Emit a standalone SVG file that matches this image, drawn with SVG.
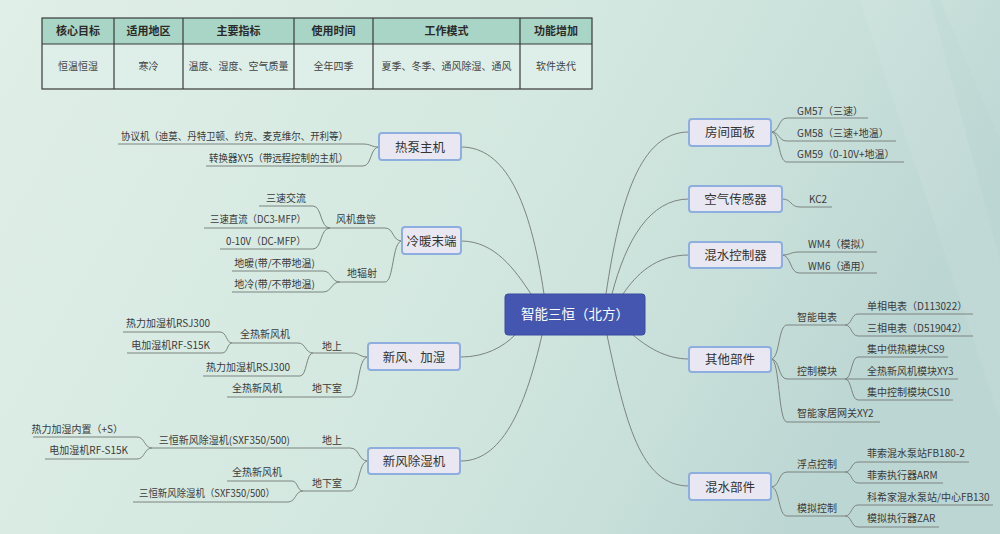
<svg xmlns="http://www.w3.org/2000/svg" width="1000" height="534" viewBox="0 0 1000 534">
<defs>
<linearGradient id="bg" x1="0" y1="0" x2="1" y2="0.3">
<stop offset="0" stop-color="#e0efe8"/>
<stop offset="0.55" stop-color="#d3e8e0"/>
<stop offset="0.8" stop-color="#c9e0da"/>
<stop offset="1" stop-color="#bcd6d3"/>
</linearGradient>
<style>
.box{fill:#e9e8f2;stroke:#8eaee0;stroke-width:2}
.bt{font-family:"Noto Sans CJK SC",sans-serif;font-size:12.5px;fill:#333;text-anchor:middle}
.t{font-family:"Noto Sans CJK SC",sans-serif;font-size:10px;fill:#3a3a3a}
.e{text-anchor:end}
.ln{fill:none;stroke:#7d8480;stroke-width:1}
.th{font-family:"Noto Sans CJK SC",sans-serif;font-size:11px;font-weight:bold;fill:#2a2a2a;text-anchor:middle}
.td{font-family:"Liberation Serif","Noto Sans CJK SC",serif;font-size:10px;fill:#444;text-anchor:middle}
.tb{stroke:#3a3a3a;stroke-width:1.2;fill:none}
</style>
</defs>
<rect width="1000" height="534" fill="url(#bg)"/>
<polygon points="860,0 930,0 1000,260 1000,420" fill="#ffffff" opacity="0.08"/>
<polygon points="940,0 1000,0 1000,140" fill="#ffffff" opacity="0.06"/>

<g id="table">
<rect x="42" y="18" width="550" height="26" fill="#a8d5c5"/>
<rect x="42" y="44" width="550" height="45" fill="#deeee8"/>
<rect x="42" y="18" width="550" height="71" class="tb"/>
<line x1="42" y1="44" x2="592" y2="44" class="tb"/>
<line x1="114" y1="18" x2="114" y2="89" class="tb"/>
<line x1="183" y1="18" x2="183" y2="89" class="tb"/>
<line x1="294" y1="18" x2="294" y2="89" class="tb"/>
<line x1="373" y1="18" x2="373" y2="89" class="tb"/>
<line x1="520" y1="18" x2="520" y2="89" class="tb"/>
<text x="78" y="35" class="th">核心目标</text>
<text x="148.5" y="35" class="th">适用地区</text>
<text x="238.5" y="35" class="th">主要指标</text>
<text x="333.5" y="35" class="th">使用时间</text>
<text x="446.5" y="35" class="th">工作模式</text>
<text x="556" y="35" class="th">功能增加</text>
<text x="78" y="70" class="td">恒温恒湿</text>
<text x="148.5" y="70" class="td">寒冷</text>
<text x="238.5" y="70" class="td">温度、湿度、空气质量</text>
<text x="333.5" y="70" class="td">全年四季</text>
<text x="446.5" y="70" class="td">夏季、冬季、通风除湿、通风</text>
<text x="556" y="70" class="td">软件迭代</text>
</g>

<g id="connectors">
<path class="ln" d="M461,147 C505,147 530,200 544,294"/>
<path class="ln" d="M461,241 C495,241 515,270 531,294"/>
<path class="ln" d="M461,357 C485,357 503,347 515,335"/>
<path class="ln" d="M461,461 C505,461 527,400 542,335"/>
<path class="ln" d="M689,132 C640,132 620,200 606,294"/>
<path class="ln" d="M689,199 C650,199 626,240 612,294"/>
<path class="ln" d="M689,255 C655,255 636,275 623,294"/>
<path class="ln" d="M689,359 C665,359 646,346 633,335"/>
<path class="ln" d="M689,486 C640,486 625,420 607,335"/>
<path class="ln" d="M379,147 C371,147 371,144 363,144 H118"/>
<path class="ln" d="M379,147 C370,147 372,166 363,166 H206"/>
<path class="ln" d="M402,241 C392,241 394,228 385,228 H204"/>
<path class="ln" d="M402,241 C392,241 394,282 385,282 H340"/>
<path class="ln" d="M330,228 C320,228 322,206 313,206 H259"/>
<path class="ln" d="M330,228 C320,228 322,249 313,249 H220"/>
<path class="ln" d="M340,282 C331,282 332,271 323,271 H232"/>
<path class="ln" d="M340,282 C331,282 332,292 323,292 H232"/>
<path class="ln" d="M368,357 C359,357 360,353 352,353 H313"/>
<path class="ln" d="M368,357 C357,357 360,397 350,397 H227"/>
<path class="ln" d="M313,353 C305,353 306,343 298,343 H232"/>
<path class="ln" d="M313,353 C306,353 307,376 300,376 H203"/>
<path class="ln" d="M232,343 C226,343 227,332 220,332 H123"/>
<path class="ln" d="M232,343 C227,343 228,353 222,353 H127"/>
<path class="ln" d="M368,461 C358,461 360,448 350,448 H152"/>
<path class="ln" d="M368,461 C358,461 360,491 350,491 H303"/>
<path class="ln" d="M152,448 C144,448 145,437 137,437 H33"/>
<path class="ln" d="M152,448 C144,448 145,459 137,459 H45"/>
<path class="ln" d="M303,491 C297,491 298,481 292,481 H227"/>
<path class="ln" d="M303,491 C295,491 296,502 288,502 H133"/>
<path class="ln" d="M771,132 C780,132 778,118 787,118 H868"/>
<path class="ln" d="M771,132 C780,132 778,141 787,141 H896"/>
<path class="ln" d="M771,132 C780,132 778,162 787,162 H904"/>
<path class="ln" d="M782,199 C792,199 790,207 800,207 H832"/>
<path class="ln" d="M782,255 C791,255 790,252 799,252 H877"/>
<path class="ln" d="M782,255 C791,255 790,273 799,273 H877"/>
<path class="ln" d="M771,359 C780,359 778,325 787,325 H845"/>
<path class="ln" d="M771,359 C780,359 778,379 787,379 H958"/>
<path class="ln" d="M771,359 C780,359 778,422 787,422 H880"/>
<path class="ln" d="M845,325 C852,325 851,314 858,314 H973"/>
<path class="ln" d="M845,325 C852,325 851,336 858,336 H973"/>
<path class="ln" d="M845,379 C852,379 851,357 858,357 H948"/>
<path class="ln" d="M845,379 C852,379 851,400 858,400 H953"/>
<path class="ln" d="M771,487 C780,487 778,472 787,472 H845"/>
<path class="ln" d="M771,487 C780,487 778,516 787,516 H845"/>
<path class="ln" d="M845,472 C852,472 851,462 858,462 H969"/>
<path class="ln" d="M845,472 C852,472 851,483 858,483 H943"/>
<path class="ln" d="M845,516 C852,516 851,505 858,505 H993"/>
<path class="ln" d="M845,516 C852,516 851,527 858,527 H939"/>
</g>

<g id="center">
<rect x="505" y="294" width="140" height="41" rx="3" fill="#4556b0" stroke="#3a4aa0" stroke-width="1"/>
<text x="575" y="319" font-family="'Noto Sans CJK SC',sans-serif" font-size="13.5" fill="#ffffff" text-anchor="middle">智能三恒（北方）</text>
</g>

<g id="n-rebeng">
<rect x="379" y="133" width="82" height="27" rx="3" class="box"/>
<text x="420" y="151.5" class="bt">热泵主机</text>
<text x="348" y="140" class="t e" textLength="227" lengthAdjust="spacingAndGlyphs">协议机（迪莫、丹特卫顿、约克、麦克维尔、开利等）</text>
<text x="348" y="162" class="t e" textLength="139" lengthAdjust="spacingAndGlyphs">转换器XY5（带远程控制的主机）</text>
</g>

<g id="n-lengnuan">
<rect x="402" y="227" width="59" height="27" rx="3" class="box"/>
<text x="431.5" y="245.5" class="bt">冷暖末端</text>
<text x="376" y="223" class="t e">风机盘管</text>
<text x="377" y="277" class="t e">地辐射</text>
<text x="306" y="202" class="t e">三速交流</text>
<text x="306" y="223" class="t e" textLength="96" lengthAdjust="spacingAndGlyphs">三速直流（DC3-MFP）</text>
<text x="306" y="245" class="t e" textLength="80" lengthAdjust="spacingAndGlyphs">0-10V（DC-MFP）</text>
<text x="315" y="267" class="t e">地暖(带/不带地温)</text>
<text x="315" y="288" class="t e">地冷(带/不带地温)</text>
</g>

<g id="n-xinfeng">
<rect x="368" y="343" width="92" height="27" rx="3" class="box"/>
<text x="414" y="361.5" class="bt">新风、加湿</text>
<text x="342" y="350" class="t e">地上</text>
<text x="342" y="392" class="t e">地下室</text>
<text x="290" y="337.5" class="t e">全热新风机</text>
<text x="210" y="327" class="t e">热力加湿机RSJ300</text>
<text x="210" y="349" class="t e">电加湿机RF-S15K</text>
<text x="290" y="371" class="t e">热力加湿机RSJ300</text>
<text x="282" y="392" class="t e">全热新风机</text>
</g>

<g id="n-chushi">
<rect x="368" y="448" width="92" height="26" rx="3" class="box"/>
<text x="414" y="465.5" class="bt">新风除湿机</text>
<text x="342" y="444" class="t e">地上</text>
<text x="342" y="487" class="t e">地下室</text>
<text x="290" y="444" class="t e">三恒新风除湿机(SXF350/500)</text>
<text x="123" y="433" class="t e">热力加湿内置（+S）</text>
<text x="128" y="454" class="t e">电加湿机RF-S15K</text>
<text x="282" y="476" class="t e">全热新风机</text>
<text x="275" y="497" class="t e" textLength="136" lengthAdjust="spacingAndGlyphs">三恒新风除湿机（SXF350/500）</text>
</g>

<g id="n-fangjian">
<rect x="689" y="119" width="82" height="27" rx="3" class="box"/>
<text x="730" y="137" class="bt">房间面板</text>
<text x="797" y="115" class="t">GM57（三速）</text>
<text x="797" y="137" class="t">GM58（三速+地温）</text>
<text x="797" y="158" class="t">GM59（0-10V+地温）</text>
</g>

<g id="n-kongqi">
<rect x="689" y="186" width="93" height="26" rx="3" class="box"/>
<text x="735.5" y="203.5" class="bt">空气传感器</text>
<text x="809" y="203" class="t">KC2</text>
</g>

<g id="n-hunshuikz">
<rect x="689" y="242" width="93" height="26" rx="3" class="box"/>
<text x="735.5" y="259.5" class="bt">混水控制器</text>
<text x="808" y="248" class="t">WM4（模拟）</text>
<text x="808" y="270" class="t">WM6（通用）</text>
</g>

<g id="n-qita">
<rect x="689" y="347" width="82" height="25" rx="3" class="box"/>
<text x="730" y="364" class="bt">其他部件</text>
<text x="797" y="321" class="t">智能电表</text>
<text x="797" y="375" class="t">控制模块</text>
<text x="797" y="417" class="t">智能家居网关XY2</text>
<text x="867" y="310" class="t">单相电表（D113022）</text>
<text x="867" y="332" class="t">三相电表（D519042）</text>
<text x="867" y="353" class="t">集中供热模块CS9</text>
<text x="867" y="375" class="t">全热新风机模块XY3</text>
<text x="867" y="396" class="t">集中控制模块CS10</text>
</g>

<g id="n-hunshuibj">
<rect x="689" y="473" width="82" height="27" rx="3" class="box"/>
<text x="730" y="491.5" class="bt">混水部件</text>
<text x="797" y="468" class="t">浮点控制</text>
<text x="797" y="512" class="t">模拟控制</text>
<text x="867" y="457" class="t">菲索混水泵站FB180-2</text>
<text x="867" y="479" class="t">菲索执行器ARM</text>
<text x="867" y="501" class="t">科希家混水泵站/中心FB130</text>
<text x="867" y="522" class="t">模拟执行器ZAR</text>
</g>
</svg>
